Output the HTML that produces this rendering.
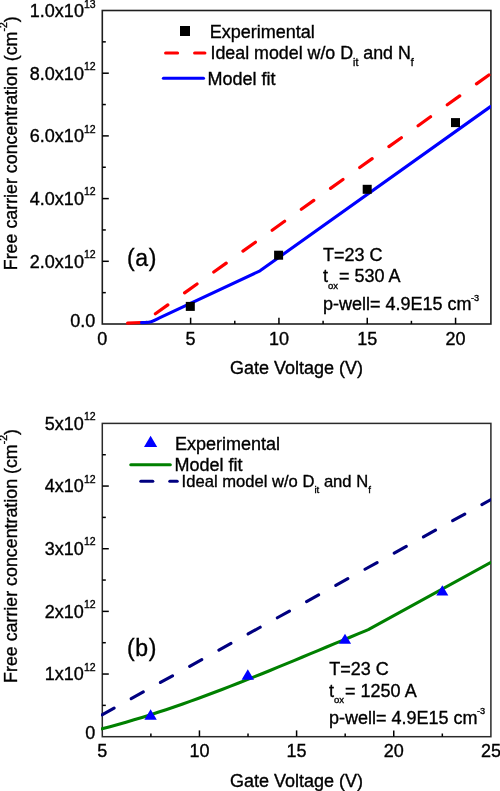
<!DOCTYPE html>
<html><head><meta charset="utf-8"><style>
html,body{margin:0;padding:0;background:#fff;}
svg{display:block;will-change:transform;}
text{font-family:"Liberation Sans",sans-serif;fill:#000;stroke:#000;stroke-width:0.35px;}
</style></head><body>
<svg width="500" height="791" viewBox="0 0 500 791">
<rect x="0" y="0" width="500" height="791" fill="#fff"/>
<defs><clipPath id="ca"><rect x="101" y="9" width="389.9" height="316"/></clipPath><clipPath id="cb"><rect x="101" y="422" width="389.9" height="316"/></clipPath></defs>
<rect x="102.3" y="10.5" width="388.60" height="313.50" fill="none" stroke="#1e1e1e" stroke-width="1.6"/>
<line x1="190.62" y1="324.0" x2="190.62" y2="317.70" stroke="#000" stroke-width="1.5"/>
<line x1="278.94" y1="324.0" x2="278.94" y2="317.70" stroke="#000" stroke-width="1.5"/>
<line x1="367.25" y1="324.0" x2="367.25" y2="317.70" stroke="#000" stroke-width="1.5"/>
<line x1="455.57" y1="324.0" x2="455.57" y2="317.70" stroke="#000" stroke-width="1.5"/>
<line x1="146.46" y1="324.0" x2="146.46" y2="320.80" stroke="#000" stroke-width="1.5"/>
<line x1="234.78" y1="324.0" x2="234.78" y2="320.80" stroke="#000" stroke-width="1.5"/>
<line x1="323.10" y1="324.0" x2="323.10" y2="320.80" stroke="#000" stroke-width="1.5"/>
<line x1="411.41" y1="324.0" x2="411.41" y2="320.80" stroke="#000" stroke-width="1.5"/>
<line x1="102.3" y1="261.30" x2="108.80" y2="261.30" stroke="#000" stroke-width="1.5"/>
<line x1="102.3" y1="198.60" x2="108.80" y2="198.60" stroke="#000" stroke-width="1.5"/>
<line x1="102.3" y1="135.90" x2="108.80" y2="135.90" stroke="#000" stroke-width="1.5"/>
<line x1="102.3" y1="73.20" x2="108.80" y2="73.20" stroke="#000" stroke-width="1.5"/>
<line x1="102.3" y1="292.65" x2="105.80" y2="292.65" stroke="#000" stroke-width="1.5"/>
<line x1="102.3" y1="229.95" x2="105.80" y2="229.95" stroke="#000" stroke-width="1.5"/>
<line x1="102.3" y1="167.25" x2="105.80" y2="167.25" stroke="#000" stroke-width="1.5"/>
<line x1="102.3" y1="104.55" x2="105.80" y2="104.55" stroke="#000" stroke-width="1.5"/>
<line x1="102.3" y1="41.85" x2="105.80" y2="41.85" stroke="#000" stroke-width="1.5"/>
<g fill="none" stroke-linecap="round" stroke-linejoin="round" clip-path="url(#ca)">
<path d="M127.6 323.1 L141 322.5" stroke="#ff0000" stroke-width="3.2"/>
<path d="M142.55 323 L491 73.5" stroke="#ff0000" stroke-width="3.2" stroke-dasharray="15.3 20.6" stroke-dashoffset="20.1"/>
<path d="M141.6 322.6 L146.5 322.5 C151 322.4 155 320 160 317.6 L260 270.8 L490.5 106.6" stroke="#0000ff" stroke-width="3.1"/>
</g>
<rect x="185.80" y="301.90" width="9" height="9" fill="#000"/>
<rect x="274.10" y="250.70" width="9" height="9" fill="#000"/>
<rect x="362.70" y="184.80" width="9" height="9" fill="#000"/>
<rect x="451.00" y="118.10" width="9" height="9" fill="#000"/>
<text x="83.90" y="17.20" font-size="18" text-anchor="end">1.0x10</text>
<text x="84.00" y="7.60" font-size="10.5">13</text>
<text x="83.90" y="79.50" font-size="18" text-anchor="end">8.0x10</text>
<text x="84.00" y="69.90" font-size="10.5">12</text>
<text x="83.90" y="142.20" font-size="18" text-anchor="end">6.0x10</text>
<text x="84.00" y="132.60" font-size="10.5">12</text>
<text x="83.90" y="204.90" font-size="18" text-anchor="end">4.0x10</text>
<text x="84.00" y="195.30" font-size="10.5">12</text>
<text x="83.90" y="267.60" font-size="18" text-anchor="end">2.0x10</text>
<text x="84.00" y="258.00" font-size="10.5">12</text>
<text x="95.30" y="327.10" font-size="18" text-anchor="end">0.0</text>
<text x="102.30" y="344.60" font-size="18" text-anchor="middle">0</text>
<text x="190.62" y="344.60" font-size="18" text-anchor="middle">5</text>
<text x="278.94" y="344.60" font-size="18" text-anchor="middle">10</text>
<text x="367.25" y="344.60" font-size="18" text-anchor="middle">15</text>
<text x="455.57" y="344.60" font-size="18" text-anchor="middle">20</text>
<text x="230.00" y="374.20" font-size="18">Gate Voltage (V)</text>
<text transform="translate(16.8 270.2) rotate(-90) scale(0.99 1)" font-size="18">Free carrier concentration (cm<tspan font-size="10.5" dy="-9.8">-2</tspan><tspan dy="9.8">)</tspan></text>
<rect x="180" y="26" width="10" height="10" fill="#000"/>
<text x="209.70" y="37.80" font-size="18">Experimental</text>
<g stroke="#ff0000" stroke-width="3.1" stroke-linecap="round"><line x1="165.6" y1="53" x2="177.6" y2="53"/><line x1="194.6" y1="53" x2="204.9" y2="53"/></g>
<text transform="translate(210.5 59.2) scale(0.99 1)" font-size="18">Ideal model w/o D<tspan font-size="10.5" dy="6.9">it</tspan><tspan dy="-6.9"> and N</tspan><tspan font-size="10.5" dy="6.9">f</tspan></text>
<line x1="163.4" y1="78.3" x2="203.5" y2="78.3" stroke="#0000ff" stroke-width="3.1" stroke-linecap="round"/>
<text x="207.40" y="84.90" font-size="18">Model fit</text>
<text x="127.00" y="265.70" font-size="23" letter-spacing="0.7">(a)</text>
<text x="323.00" y="260.60" font-size="18">T=23 C</text>
<text x="323.0" y="282.4" font-size="18">t<tspan font-size="9.5" dy="6.6">ox</tspan><tspan dy="-6.6" dx="1">= 530 A</tspan></text>
<text x="323.0" y="309.8" font-size="18">p-well= 4.9E15 cm<tspan font-size="9.2" dy="-9.3" dx="-0.6">-3</tspan></text>
<rect x="102.3" y="423.4" width="388.60" height="313.30" fill="none" stroke="#2a2a2a" stroke-width="1.5"/>
<line x1="199.45" y1="736.7" x2="199.45" y2="730.40" stroke="#000" stroke-width="1.5"/>
<line x1="296.60" y1="736.7" x2="296.60" y2="730.40" stroke="#000" stroke-width="1.5"/>
<line x1="393.75" y1="736.7" x2="393.75" y2="730.40" stroke="#000" stroke-width="1.5"/>
<line x1="150.88" y1="736.7" x2="150.88" y2="733.50" stroke="#000" stroke-width="1.5"/>
<line x1="248.02" y1="736.7" x2="248.02" y2="733.50" stroke="#000" stroke-width="1.5"/>
<line x1="345.18" y1="736.7" x2="345.18" y2="733.50" stroke="#000" stroke-width="1.5"/>
<line x1="442.32" y1="736.7" x2="442.32" y2="733.50" stroke="#000" stroke-width="1.5"/>
<line x1="102.3" y1="674.04" x2="108.80" y2="674.04" stroke="#000" stroke-width="1.5"/>
<line x1="102.3" y1="611.38" x2="108.80" y2="611.38" stroke="#000" stroke-width="1.5"/>
<line x1="102.3" y1="548.72" x2="108.80" y2="548.72" stroke="#000" stroke-width="1.5"/>
<line x1="102.3" y1="486.06" x2="108.80" y2="486.06" stroke="#000" stroke-width="1.5"/>
<line x1="102.3" y1="705.37" x2="105.80" y2="705.37" stroke="#000" stroke-width="1.5"/>
<line x1="102.3" y1="642.71" x2="105.80" y2="642.71" stroke="#000" stroke-width="1.5"/>
<line x1="102.3" y1="580.05" x2="105.80" y2="580.05" stroke="#000" stroke-width="1.5"/>
<line x1="102.3" y1="517.39" x2="105.80" y2="517.39" stroke="#000" stroke-width="1.5"/>
<line x1="102.3" y1="454.73" x2="105.80" y2="454.73" stroke="#000" stroke-width="1.5"/>
<g fill="none" stroke-linecap="round" stroke-linejoin="round" clip-path="url(#cb)">
<path d="M102 714.8 L491 499.5" stroke="#000080" stroke-width="3.1" stroke-dasharray="13.8 19.6"/>
<path d="M102.0 728.80 L110.0 726.69 L118.0 724.50 L126.0 722.22 L134.0 719.86 L142.0 717.42 L150.0 714.91 L158.0 712.33 L166.0 709.68 L174.0 706.96 L182.0 704.18 L190.0 701.35 L198.0 698.46 L206.0 695.51 L214.0 692.52 L222.0 689.48 L230.0 686.40 L238.0 683.27 L246.0 680.12 L254.0 676.93 L262.0 673.71 L270.0 670.46 L278.0 667.19 L286.0 663.90 L294.0 660.59 L302.0 657.27 L310.0 653.94 L318.0 650.60 L326.0 647.25 L334.0 643.91 L342.0 640.56 L350.0 637.23 L358.0 633.90 L366.0 630.58 L368.3 629.63 L490.5 562.5" stroke="#008000" stroke-width="3.1"/>
</g>
<path d="M150.60 709.20 L156.80 719.70 L144.40 719.70 Z" fill="#0000ff"/>
<path d="M247.80 669.20 L254.00 679.70 L241.60 679.70 Z" fill="#0000ff"/>
<path d="M345.00 633.80 L351.10 643.70 L338.90 643.70 Z" fill="#0000ff"/>
<path d="M442.30 585.20 L448.30 595.50 L436.30 595.50 Z" fill="#0000ff"/>
<text x="83.90" y="429.70" font-size="18" text-anchor="end">5x10</text>
<text x="84.00" y="420.10" font-size="10.5">12</text>
<text x="83.90" y="492.36" font-size="18" text-anchor="end">4x10</text>
<text x="84.00" y="482.76" font-size="10.5">12</text>
<text x="83.90" y="555.02" font-size="18" text-anchor="end">3x10</text>
<text x="84.00" y="545.42" font-size="10.5">12</text>
<text x="83.90" y="617.68" font-size="18" text-anchor="end">2x10</text>
<text x="84.00" y="608.08" font-size="10.5">12</text>
<text x="83.90" y="680.34" font-size="18" text-anchor="end">1x10</text>
<text x="84.00" y="670.74" font-size="10.5">12</text>
<text x="95.30" y="739.30" font-size="18" text-anchor="end">0</text>
<text x="102.30" y="757.10" font-size="18" text-anchor="middle">5</text>
<text x="199.45" y="757.10" font-size="18" text-anchor="middle">10</text>
<text x="296.60" y="757.10" font-size="18" text-anchor="middle">15</text>
<text x="393.75" y="757.10" font-size="18" text-anchor="middle">20</text>
<text x="490.90" y="757.10" font-size="18" text-anchor="middle">25</text>
<text x="230.00" y="786.90" font-size="18">Gate Voltage (V)</text>
<text transform="translate(17.1 682.9) rotate(-90) scale(0.99 1)" font-size="18">Free carrier concentration (cm<tspan font-size="10.5" dy="-9.8">-2</tspan><tspan dy="9.8">)</tspan></text>
<path d="M150.6 435.7 L157.2 447 L144 447 Z" fill="#0000ff"/>
<text x="175.00" y="449.60" font-size="18">Experimental</text>
<line x1="130.8" y1="464.7" x2="170.3" y2="464.7" stroke="#008000" stroke-width="3.1" stroke-linecap="round"/>
<text x="174.60" y="471.00" font-size="18">Model fit</text>
<g stroke="#000080" stroke-width="3.1" stroke-linecap="round"><line x1="140.8" y1="481.3" x2="152.8" y2="481.3"/><line x1="169.8" y1="481.3" x2="177.2" y2="481.3"/></g>
<text x="181.6" y="486.7" font-size="16.6">Ideal model w/o D<tspan font-size="9.7" dy="6">it</tspan><tspan dy="-6"> and N</tspan><tspan font-size="9.7" dy="6">f</tspan></text>
<text x="127.00" y="655.60" font-size="23" letter-spacing="0.7">(b)</text>
<text x="329.20" y="674.80" font-size="18">T=23 C</text>
<text x="329.0" y="696.7" font-size="18">t<tspan font-size="9.5" dy="6.6">ox</tspan><tspan dy="-6.6" dx="1">= 1250 A</tspan></text>
<text x="329.0" y="723.5" font-size="18">p-well= 4.9E15 cm<tspan font-size="9.2" dy="-9.3" dx="-0.6">-3</tspan></text>
</svg>
</body></html>
